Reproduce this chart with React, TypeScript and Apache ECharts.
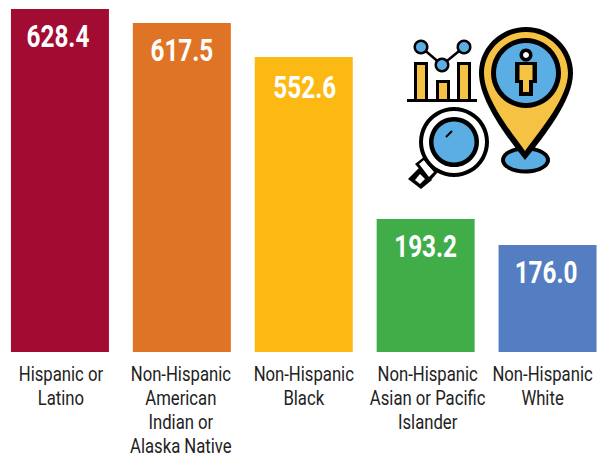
import React, { useEffect, useRef } from "react";
import * as echarts from "echarts";

const categories = [
  "Hispanic or\nLatino",
  "Non-Hispanic\nAmerican\nIndian or\nAlaska Native",
  "Non-Hispanic\nBlack",
  "Non-Hispanic\nAsian or Pacific\nIslander",
  "Non-Hispanic\nWhite",
];
// The figures printed on the bars.
const printedValues = ["628.4", "617.5", "552.6", "193.2", "176.0"];
// The reference's bars are not drawn in proportion to their printed figures
// (an infographic), so the bar lengths are read separately from the picture,
// in the units of the first bar, whose length does match its figure.
const drawnLengths = [628.4, 603, 540.5, 243.7, 196];
const colors = ["#A20C33", "#DF7427", "#FDB913", "#41AD49", "#557EC2"];

const K = "#000000";
const Y = "#F6C244";
const B = "#5BAEE3";
const W = "#FFFFFF";
const FONT = "Roboto, sans-serif";

const pinOuter =
  "M526 27 C500 27 479 48 479 73 C479 100 505 135 525 160 C545 135 573 100 573 73 C573 48 552 27 526 27Z";
const pinInner =
  "M526 32 C503 32 484 51 484 73 C484 97 508 128 525 151 C542 128 568 97 568 73 C568 51 549 32 526 32Z";
echarts.graphic.registerShape("pinOuter", echarts.graphic.extendPath(pinOuter, {}));
echarts.graphic.registerShape("pinInner", echarts.graphic.extendPath(pinInner, {}));

const circle = (cx: number, cy: number, r: number, fill: string) => ({
  type: "circle",
  shape: { cx, cy, r },
  style: { fill },
});
const box = (x: number, y: number, width: number, height: number, fill: string) => ({
  type: "rect",
  shape: { x, y, width, height },
  style: { fill },
});
const seg = (x1: number, y1: number, x2: number, y2: number, lineWidth = 2.5) => ({
  type: "line",
  shape: { x1, y1, x2, y2 },
  style: { stroke: K, lineWidth },
});
const poly = (points: number[][], fill: string) => ({
  type: "polygon",
  shape: { points },
  style: { fill },
});

const icon = [
  // mini chart
  box(414, 62, 14, 38, K),
  box(417, 65, 8, 35, Y),
  box(436, 80, 14, 20, K),
  box(439, 83, 8, 17, Y),
  box(457, 62, 14, 38, K),
  box(460, 65, 8, 35, Y),
  box(407, 99, 70, 3, K),
  seg(421, 47, 442, 65),
  seg(442, 65, 464, 47),
  circle(421, 47, 7.5, K),
  circle(421, 47, 5, B),
  circle(442, 65, 7.5, K),
  circle(442, 65, 5, B),
  circle(464, 47, 7.5, K),
  circle(464, 47, 5, B),
  // pin
  { type: "ellipse", shape: { cx: 525.5, cy: 160, rx: 24.5, ry: 13.5 }, style: { fill: K } },
  { type: "ellipse", shape: { cx: 525.5, cy: 160, rx: 20.5, ry: 9.5 }, style: { fill: B } },
  { type: "pinOuter", x: 0, y: 0, style: { fill: K } },
  { type: "pinInner", x: 0, y: 0, style: { fill: Y } },
  circle(526, 73, 35, K),
  circle(526, 73, 30, B),
  circle(526, 55, 6.5, K),
  circle(526, 55, 3, W),
  box(515, 62, 22, 21, K),
  box(519.5, 65, 13, 16, Y),
  box(519, 80, 14, 16, K),
  box(523, 80, 6, 12, Y),
  // magnifier
  poly([[408, 179], [419, 168], [432, 180], [421, 189]], K),
  poly([[415, 180], [420, 174], [425, 179], [420, 184]], W),
  poly([[415, 164], [424, 157], [438, 172], [430, 181]], K),
  poly([[419, 164], [424, 160], [434, 172], [429, 177]], W),
  circle(454, 142, 35, K),
  circle(454, 142, 31, W),
  circle(454, 142, 25, K),
  circle(454, 142, 20.5, B),
  seg(446, 137, 452, 131, 2),
];

export default function App() {
  const ref = useRef<HTMLDivElement>(null);
  useEffect(() => {
    const chart = echarts.init(ref.current!, undefined, { renderer: "svg" });
    const labelNudge = [1, -1, 0, 2, -5];
    const valueNudgeX = [-2, 0, 1, 0, -1.5];
    const valueNudgeY = [0, 0, 3, 0, 0];
    chart.setOption({
      animation: false,
      backgroundColor: "#FFFFFF",
      grid: { left: -1, width: 609.5, top: 0, height: 352, outerBoundsMode: "none", containLabel: false },
      xAxis: {
        type: "category",
        data: categories,
        axisLine: { show: false },
        axisTick: { show: false },
        axisLabel: { show: false },
      },
      yAxis: { type: "value", min: 0, max: 645, show: false },
      series: [
        {
          type: "bar",
          barWidth: 98,
          z: 2,
          data: drawnLengths.map((value, i) => ({
            value,
            itemStyle: { color: colors[i] },
          })),
        },
        {
          // Narrow text: the condensed face of the reference is not installed,
          // so Roboto is squeezed horizontally; a custom series allows that.
          type: "custom",
          clip: false,
          silent: true,
          z: 10,
          data: drawnLengths.map((v, i) => [i, v]),
          renderItem: (_: unknown, api: any) => {
            const i = api.value(0);
            const [x, y] = api.coord([i, api.value(1)]);
            const [, y0] = api.coord([i, 0]);
            return {
              type: "group",
              children: [
                {
                  type: "text",
                  x: x + valueNudgeX[i],
                  y: y + 11 + valueNudgeY[i],
                  scaleX: 0.76,
                  style: {
                    text: printedValues[i],
                    fill: "#FFFFFF",
                    font: `bold 32px ${FONT}`,
                    textAlign: "center",
                    textVerticalAlign: "top",
                  },
                },
                {
                  type: "text",
                  x: x + labelNudge[i],
                  y: y0 + 9.5,
                  scaleX: 0.835,
                  style: {
                    text: categories[i],
                    fill: "#222222",
                    font: `20px ${FONT}`,
                    lineHeight: 24,
                    textAlign: "center",
                    textVerticalAlign: "top",
                  },
                },
              ],
            };
          },
        },
      ],
      graphic: { elements: icon },
    });
    return () => chart.dispose();
  }, []);
  return (
    <div
      ref={ref}
      style={{ position: "absolute", left: 0, top: 0, width: 597, height: 456 }}
    />
  );
}
